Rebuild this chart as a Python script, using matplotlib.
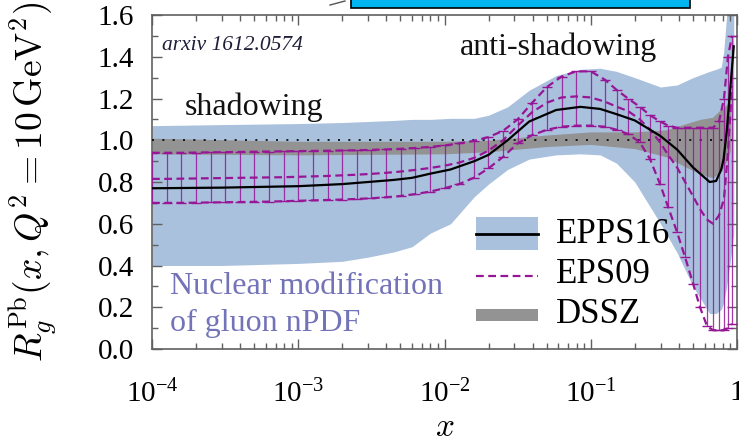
import numpy as np
import matplotlib
matplotlib.use("Agg")
import matplotlib.pyplot as plt
from matplotlib.patches import Rectangle
from matplotlib.lines import Line2D

plt.rcParams["font.family"] = ["Liberation Serif", "DejaVu Serif"]
plt.rcParams["mathtext.fontset"] = "custom"
plt.rcParams["mathtext.rm"] = "Liberation Serif"
plt.rcParams["mathtext.it"] = "Liberation Serif:italic"

# EPPS16: central value and uncertainty band
epps_x = [1e-4, 3e-4, 1e-3, 2e-3, 3e-3, 4.5e-3, 6e-3, 8e-3, 0.011, 0.016, 0.02, 0.027,
          0.038, 0.058, 0.085, 0.116, 0.15, 0.2, 0.3, 0.39, 0.5, 0.65, 0.72, 0.78, 0.81,
          0.85, 0.9, 0.95]
epps_central = [0.77, 0.773, 0.78, 0.79, 0.80, 0.81, 0.82, 0.84, 0.86, 0.90, 0.93, 1.00,
                1.09, 1.145, 1.16, 1.15, 1.125, 1.095, 1.02, 0.955, 0.87, 0.80, 0.805, 0.86,
                0.91, 1.04, 1.25, 1.45]
epps_upper = [1.07, 1.075, 1.08, 1.085, 1.09, 1.095, 1.10, 1.10, 1.105, 1.105, 1.12, 1.16,
              1.24, 1.31, 1.34, 1.345, 1.33, 1.30, 1.255, 1.265, 1.30, 1.33, 1.34, 1.35,
              1.42, 1.60, 1.70, 1.70]
epps_lower = [0.40, 0.40, 0.41, 0.42, 0.44, 0.465, 0.49, 0.555, 0.60, 0.73, 0.79, 0.86,
              0.91, 0.93, 0.935, 0.93, 0.89, 0.80, 0.60, 0.46, 0.30, 0.17, 0.17, 0.19,
              0.22, 0.30, 0.42, 0.55]

# DSSZ band
dssz_x = [1e-4, 1e-3, 0.01, 0.02, 0.05, 0.1, 0.2, 0.33, 0.45, 0.56, 0.68, 0.78, 0.85, 0.9]
dssz_lower = [0.935, 0.93, 0.935, 0.945, 0.97, 0.98, 0.96, 0.92, 0.87, 0.84, 0.82, 0.85, 0.90, 0.95]
dssz_upper = [1.01, 0.995, 0.995, 1.0, 1.025, 1.04, 1.04, 1.05, 1.08, 1.10, 1.11, 1.15, 1.17, 1.20]

# EPS09: central and error set envelope, sampled where the error bars sit
eps_logx = [-4.0, -3.9, -3.8, -3.7, -3.6, -3.5, -3.4, -3.3, -3.2, -3.1, -3.0, -2.9, -2.8,
            -2.7, -2.6, -2.5, -2.4, -2.3, -2.2, -2.1, -2.0, -1.9, -1.8, -1.7, -1.6, -1.5,
            -1.4, -1.3, -1.2, -1.1, -1.0, -0.903, -0.821, -0.745, -0.664, -0.595, -0.526,
            -0.471, -0.410, -0.355, -0.299, -0.253, -0.205, -0.164, -0.123, -0.089, -0.062,
            -0.034]
eps_upper = [0.94, 0.94, 0.94, 0.941, 0.942, 0.943, 0.944, 0.945, 0.946, 0.947, 0.948, 0.949,
             0.950, 0.951, 0.952, 0.954, 0.956, 0.959, 0.963, 0.968, 0.975, 0.985, 0.997,
             1.015, 1.045, 1.10, 1.18, 1.255, 1.305, 1.33, 1.33, 1.29, 1.24, 1.20, 1.16,
             1.12, 1.09, 1.07, 1.06, 1.06, 1.06, 1.06, 1.06, 1.06, 1.09, 1.20, 1.40, 1.50]
eps_central = [0.815, 0.815, 0.816, 0.817, 0.818, 0.819, 0.82, 0.821, 0.822, 0.823, 0.825,
               0.827, 0.829, 0.832, 0.835, 0.839, 0.844, 0.85, 0.858, 0.867, 0.878, 0.893,
               0.915, 0.95, 1.0, 1.07, 1.135, 1.18, 1.205, 1.21, 1.205, 1.185, 1.16, 1.14,
               1.10, 1.05, 0.99, 0.93, 0.87, 0.80, 0.73, 0.67, 0.62, 0.60, 0.64, 0.72, 0.94,
               1.26]
eps_lower = [0.70, 0.70, 0.70, 0.701, 0.702, 0.703, 0.704, 0.705, 0.706, 0.708, 0.71, 0.712,
             0.714, 0.716, 0.719, 0.722, 0.727, 0.733, 0.742, 0.754, 0.77, 0.79, 0.82, 0.865,
             0.92, 0.985, 1.025, 1.05, 1.065, 1.07, 1.07, 1.065, 1.05, 1.03, 0.99, 0.91, 0.79,
             0.68, 0.56, 0.44, 0.31, 0.20, 0.11, 0.09, 0.09, 0.09, 0.10, 0.12]
eps_x = 10.0 ** np.array(eps_logx)

xticks = [1e-4, 1e-3, 1e-2, 1e-1, 1]
xtick_labels = ["$10^{-4}$", "$10^{-3}$", "$10^{-2}$", "$10^{-1}$", "1"]
yticks = [0.0, 0.2, 0.4, 0.6, 0.8, 1.0, 1.2, 1.4, 1.6]

blue = "#aac1de"
grey = "#939393"
purple = "#961696"
frame = "#606060"

fig = plt.figure(figsize=(7.39, 4.40), dpi=100)
ax = fig.add_axes([0.2057, 0.2068, 0.7916, 0.7591])

ax.fill_between(epps_x, epps_lower, epps_upper, color=blue, lw=0, zorder=1)
ax.fill_between(dssz_x, dssz_lower, dssz_upper, color=grey, lw=0, zorder=2)
ax.axhline(1.0, color="k", lw=1.2, ls=(0, (1.2, 5)), zorder=3)

# EPS09 error bars with caps, then the dashed curves
ax.vlines(eps_x, eps_lower, eps_upper, color=purple, lw=0.9, alpha=0.85, zorder=4)
ax.plot(eps_x, eps_upper, ls="none", marker="_", ms=7, mew=1.0, color=purple, zorder=4)
ax.plot(eps_x, eps_lower, ls="none", marker="_", ms=7, mew=1.0, color=purple, zorder=4)
for y in (eps_upper, eps_central, eps_lower):
    ax.plot(eps_x, y, color=purple, lw=1.6, ls=(0, (3.5, 2)), zorder=5)

ax.plot(epps_x, epps_central, color="k", lw=1.6, zorder=6)

ax.set_xscale("log")
ax.set_xlim(1e-4, 1)
ax.set_ylim(0, 1.6)
ax.set_xticks(xticks)
ax.set_xticklabels(xtick_labels)
ax.set_yticks(yticks)
ax.set_yticklabels([f"{v:.1f}" for v in yticks])
ax.yaxis.set_minor_locator(matplotlib.ticker.MultipleLocator(0.1))
ax.xaxis.set_minor_locator(matplotlib.ticker.LogLocator(base=10, subs=np.arange(2, 10)))
ax.xaxis.set_minor_formatter(matplotlib.ticker.NullFormatter())

ax.tick_params(which="both", direction="in", top=True, right=True, color=frame,
               labelsize=21)
ax.tick_params(which="major", length=7, width=1.0)
ax.tick_params(which="minor", length=4, width=1.0)
ax.tick_params(axis="x", which="major", pad=22)
ax.tick_params(axis="y", which="major", pad=13)
for s in ax.spines.values():
    s.set_color(frame)
    s.set_linewidth(1.2)

# legend drawn by hand
tr = ax.transAxes
ax.add_patch(Rectangle((0.554, 0.296), 0.106, 0.099, transform=tr, color=blue, lw=0, zorder=7))
ax.add_line(Line2D([0.554, 0.660], [0.344, 0.344], transform=tr, color="k", lw=2.0, zorder=8))
ax.add_line(Line2D([0.554, 0.660], [0.220, 0.220], transform=tr, color=purple, lw=1.6,
                   ls=(0, (3.5, 2)), zorder=8))
ax.add_patch(Rectangle((0.554, 0.083), 0.106, 0.036, transform=tr, color=grey, lw=0, zorder=7))
for label, yy in (("EPPS16", 0.344), ("EPS09", 0.222), ("DSSZ", 0.102)):
    ax.text(0.690, yy, label, transform=tr, fontsize=25, va="center", ha="left", zorder=8)

ax.text(0.017, 0.910, "arxiv 1612.0574", transform=tr, fontsize=15.5, style="italic",
        color="#1f1f3a", va="center", ha="left")
ax.text(0.056, 0.725, "shadowing", transform=tr, fontsize=23, va="center", ha="left",
        color="#111111")
ax.text(0.526, 0.904, "anti-shadowing", transform=tr, fontsize=23, va="center", ha="left",
        color="#111111")
ax.text(0.031, 0.187, "Nuclear modification", transform=tr, fontsize=23, va="center",
        ha="left", color="#7373b9")
ax.text(0.031, 0.076, "of gluon nPDF", transform=tr, fontsize=23, va="center",
        ha="left", color="#7373b9")

fig.text(0.045, 0.177, r"$R_g^{\rm Pb}(x,Q^2=10\,{\rm GeV}^2)$", rotation=90,
         fontsize=27, ha="center", va="bottom", math_fontfamily="cm")
fig.text(0.602, 0.028, r"$x$", fontsize=24, ha="center", va="center", math_fontfamily="cm")

# banner edge above the frame
fig.patches.append(Rectangle((351 / 739, 1 - 8 / 440), 339 / 739, 20 / 440,
                             transform=fig.transFigure, facecolor="#00b5ef",
                             edgecolor="k", lw=1.2, figure=fig))
fig.lines.append(Line2D([330 / 739, 345 / 739], [1 - 5 / 440, 1 - 1 / 440],
                        transform=fig.transFigure, color="#555555", lw=1.0, figure=fig))

fig.savefig("out.png", dpi=100)
